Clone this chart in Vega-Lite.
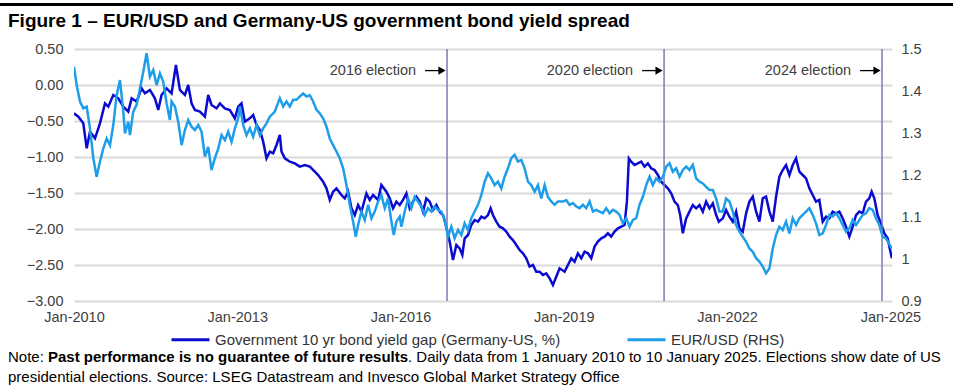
{
  "$schema": "https://vega.github.io/schema/vega-lite/v6.json",
  "width": 818,
  "height": 252,
  "autosize": {"type": "none"},
  "padding": {"left": 74, "top": 49, "right": 61, "bottom": 86},
  "background": "white",
  "config": {"view": {"stroke": null}, "font": "Liberation Sans"},
  "datasets": {
    "gap": [
      {"year": 2010.000, "value": -0.394}, {"year": 2010.080, "value": -0.440}, {"year": 2010.171, "value": -0.532}, {"year": 2010.233, "value": -0.880},
      {"year": 2010.294, "value": -0.648}, {"year": 2010.386, "value": -0.741}, {"year": 2010.477, "value": -0.532}, {"year": 2010.569, "value": -0.255},
      {"year": 2010.630, "value": -0.301}, {"year": 2010.722, "value": -0.139}, {"year": 2010.814, "value": -0.185}, {"year": 2010.906, "value": -0.301},
      {"year": 2010.997, "value": -0.370}, {"year": 2011.059, "value": -0.185}, {"year": 2011.150, "value": -0.231}, {"year": 2011.242, "value": -0.046},
      {"year": 2011.303, "value": -0.116}, {"year": 2011.395, "value": -0.069}, {"year": 2011.487, "value": -0.185}, {"year": 2011.548, "value": -0.347},
      {"year": 2011.609, "value": -0.139}, {"year": 2011.701, "value": -0.046}, {"year": 2011.793, "value": -0.116}, {"year": 2011.873, "value": 0.278},
      {"year": 2011.946, "value": -0.069}, {"year": 2012.038, "value": -0.139}, {"year": 2012.099, "value": 0.0}, {"year": 2012.160, "value": -0.255},
      {"year": 2012.221, "value": -0.347}, {"year": 2012.313, "value": -0.370}, {"year": 2012.405, "value": -0.440}, {"year": 2012.466, "value": -0.139},
      {"year": 2012.527, "value": -0.278}, {"year": 2012.619, "value": -0.324}, {"year": 2012.681, "value": -0.255}, {"year": 2012.772, "value": -0.324},
      {"year": 2012.864, "value": -0.347}, {"year": 2012.956, "value": -0.463}, {"year": 2013.017, "value": -0.301}, {"year": 2013.078, "value": -0.255},
      {"year": 2013.139, "value": -0.509}, {"year": 2013.231, "value": -0.463}, {"year": 2013.292, "value": -0.417}, {"year": 2013.354, "value": -0.556},
      {"year": 2013.415, "value": -0.625}, {"year": 2013.476, "value": -0.787}, {"year": 2013.537, "value": -1.019}, {"year": 2013.598, "value": -0.926},
      {"year": 2013.660, "value": -0.949}, {"year": 2013.721, "value": -0.833}, {"year": 2013.782, "value": -0.694}, {"year": 2013.813, "value": -0.926},
      {"year": 2013.874, "value": -1.019}, {"year": 2013.966, "value": -1.065}, {"year": 2014.057, "value": -1.088}, {"year": 2014.149, "value": -1.134},
      {"year": 2014.241, "value": -1.111}, {"year": 2014.333, "value": -1.134}, {"year": 2014.424, "value": -1.204}, {"year": 2014.486, "value": -1.250},
      {"year": 2014.577, "value": -1.343}, {"year": 2014.639, "value": -1.435}, {"year": 2014.700, "value": -1.597}, {"year": 2014.761, "value": -1.481},
      {"year": 2014.822, "value": -1.435}, {"year": 2014.914, "value": -1.528}, {"year": 2014.975, "value": -1.574}, {"year": 2015.036, "value": -1.481},
      {"year": 2015.098, "value": -1.713}, {"year": 2015.159, "value": -1.806}, {"year": 2015.220, "value": -1.667}, {"year": 2015.281, "value": -1.759},
      {"year": 2015.373, "value": -1.505}, {"year": 2015.434, "value": -1.597}, {"year": 2015.495, "value": -1.528}, {"year": 2015.587, "value": -1.597},
      {"year": 2015.648, "value": -1.389}, {"year": 2015.740, "value": -1.481}, {"year": 2015.801, "value": -1.574}, {"year": 2015.863, "value": -1.713},
      {"year": 2015.924, "value": -1.620}, {"year": 2015.985, "value": -1.667}, {"year": 2016.046, "value": -1.597}, {"year": 2016.107, "value": -1.505},
      {"year": 2016.168, "value": -1.713}, {"year": 2016.229, "value": -1.620}, {"year": 2016.291, "value": -1.551}, {"year": 2016.352, "value": -1.620},
      {"year": 2016.413, "value": -1.759}, {"year": 2016.474, "value": -1.574}, {"year": 2016.535, "value": -1.620}, {"year": 2016.597, "value": -1.736},
      {"year": 2016.658, "value": -1.667}, {"year": 2016.719, "value": -1.759}, {"year": 2016.780, "value": -1.806}, {"year": 2016.841, "value": -1.968},
      {"year": 2016.903, "value": -2.176}, {"year": 2016.964, "value": -2.431}, {"year": 2017.025, "value": -2.222}, {"year": 2017.086, "value": -2.269},
      {"year": 2017.135, "value": -2.361}, {"year": 2017.178, "value": -2.130}, {"year": 2017.239, "value": -2.083}, {"year": 2017.300, "value": -1.944},
      {"year": 2017.362, "value": -1.875}, {"year": 2017.423, "value": -1.898}, {"year": 2017.484, "value": -1.829}, {"year": 2017.545, "value": -1.852},
      {"year": 2017.606, "value": -1.806}, {"year": 2017.655, "value": -1.713}, {"year": 2017.698, "value": -1.806}, {"year": 2017.759, "value": -1.898},
      {"year": 2017.820, "value": -1.968}, {"year": 2017.882, "value": -1.991}, {"year": 2017.943, "value": -2.037}, {"year": 2018.004, "value": -2.106},
      {"year": 2018.065, "value": -2.153}, {"year": 2018.127, "value": -2.222}, {"year": 2018.188, "value": -2.292}, {"year": 2018.249, "value": -2.338},
      {"year": 2018.310, "value": -2.407}, {"year": 2018.371, "value": -2.523}, {"year": 2018.433, "value": -2.500}, {"year": 2018.494, "value": -2.593},
      {"year": 2018.555, "value": -2.593}, {"year": 2018.616, "value": -2.639}, {"year": 2018.677, "value": -2.616}, {"year": 2018.739, "value": -2.685},
      {"year": 2018.800, "value": -2.778}, {"year": 2018.861, "value": -2.662}, {"year": 2018.922, "value": -2.546}, {"year": 2019.014, "value": -2.593},
      {"year": 2019.076, "value": -2.500}, {"year": 2019.137, "value": -2.407}, {"year": 2019.198, "value": -2.454}, {"year": 2019.259, "value": -2.338},
      {"year": 2019.320, "value": -2.407}, {"year": 2019.382, "value": -2.315}, {"year": 2019.443, "value": -2.338}, {"year": 2019.504, "value": -2.407},
      {"year": 2019.565, "value": -2.245}, {"year": 2019.626, "value": -2.176}, {"year": 2019.688, "value": -2.130}, {"year": 2019.749, "value": -2.106},
      {"year": 2019.810, "value": -2.060}, {"year": 2019.871, "value": -2.106}, {"year": 2019.932, "value": -2.037}, {"year": 2019.994, "value": -1.991},
      {"year": 2020.055, "value": -1.968}, {"year": 2020.116, "value": -1.944}, {"year": 2020.159, "value": -1.620}, {"year": 2020.195, "value": -1.019},
      {"year": 2020.238, "value": -1.065}, {"year": 2020.299, "value": -1.111}, {"year": 2020.361, "value": -1.088}, {"year": 2020.422, "value": -1.065},
      {"year": 2020.483, "value": -1.134}, {"year": 2020.544, "value": -1.088}, {"year": 2020.605, "value": -1.157}, {"year": 2020.667, "value": -1.181},
      {"year": 2020.728, "value": -1.250}, {"year": 2020.789, "value": -1.343}, {"year": 2020.850, "value": -1.389}, {"year": 2020.911, "value": -1.435},
      {"year": 2020.973, "value": -1.505}, {"year": 2021.034, "value": -1.620}, {"year": 2021.095, "value": -1.667}, {"year": 2021.138, "value": -1.806},
      {"year": 2021.187, "value": -2.060}, {"year": 2021.248, "value": -1.852}, {"year": 2021.309, "value": -1.759}, {"year": 2021.370, "value": -1.667},
      {"year": 2021.432, "value": -1.713}, {"year": 2021.493, "value": -1.667}, {"year": 2021.554, "value": -1.759}, {"year": 2021.615, "value": -1.620},
      {"year": 2021.676, "value": -1.713}, {"year": 2021.738, "value": -1.644}, {"year": 2021.799, "value": -1.806}, {"year": 2021.848, "value": -1.898},
      {"year": 2021.921, "value": -1.852}, {"year": 2021.982, "value": -1.736}, {"year": 2022.043, "value": -1.829}, {"year": 2022.104, "value": -1.898},
      {"year": 2022.166, "value": -1.759}, {"year": 2022.227, "value": -1.991}, {"year": 2022.288, "value": -2.037}, {"year": 2022.349, "value": -1.782},
      {"year": 2022.410, "value": -1.620}, {"year": 2022.472, "value": -1.551}, {"year": 2022.533, "value": -1.759}, {"year": 2022.594, "value": -1.898},
      {"year": 2022.655, "value": -1.574}, {"year": 2022.716, "value": -1.551}, {"year": 2022.778, "value": -1.759}, {"year": 2022.839, "value": -1.898},
      {"year": 2022.900, "value": -1.551}, {"year": 2022.961, "value": -1.273}, {"year": 2023.022, "value": -1.181}, {"year": 2023.083, "value": -1.111},
      {"year": 2023.145, "value": -1.250}, {"year": 2023.206, "value": -1.111}, {"year": 2023.267, "value": -1.019}, {"year": 2023.328, "value": -1.204},
      {"year": 2023.389, "value": -1.250}, {"year": 2023.451, "value": -1.296}, {"year": 2023.512, "value": -1.435}, {"year": 2023.573, "value": -1.528},
      {"year": 2023.634, "value": -1.620}, {"year": 2023.695, "value": -1.597}, {"year": 2023.757, "value": -1.898}, {"year": 2023.818, "value": -1.829},
      {"year": 2023.879, "value": -1.852}, {"year": 2023.940, "value": -1.759}, {"year": 2024.001, "value": -1.782}, {"year": 2024.063, "value": -1.759},
      {"year": 2024.124, "value": -1.852}, {"year": 2024.185, "value": -1.968}, {"year": 2024.246, "value": -2.106}, {"year": 2024.307, "value": -1.968},
      {"year": 2024.369, "value": -1.806}, {"year": 2024.430, "value": -1.759}, {"year": 2024.491, "value": -1.782}, {"year": 2024.552, "value": -1.620},
      {"year": 2024.613, "value": -1.574}, {"year": 2024.656, "value": -1.481}, {"year": 2024.705, "value": -1.574}, {"year": 2024.766, "value": -1.806},
      {"year": 2024.828, "value": -1.921}, {"year": 2024.889, "value": -2.060}, {"year": 2024.950, "value": -2.130}, {"year": 2025.027, "value": -2.407}
    ],
    "eurusd": [
      {"year": 2010.000, "value": 1.458}, {"year": 2010.049, "value": 1.414}, {"year": 2010.110, "value": 1.375}, {"year": 2010.171, "value": 1.359},
      {"year": 2010.233, "value": 1.363}, {"year": 2010.294, "value": 1.311}, {"year": 2010.355, "value": 1.240}, {"year": 2010.416, "value": 1.196},
      {"year": 2010.477, "value": 1.232}, {"year": 2010.538, "value": 1.263}, {"year": 2010.600, "value": 1.287}, {"year": 2010.661, "value": 1.271},
      {"year": 2010.722, "value": 1.319}, {"year": 2010.783, "value": 1.390}, {"year": 2010.845, "value": 1.426}, {"year": 2010.906, "value": 1.351},
      {"year": 2010.936, "value": 1.299}, {"year": 2010.997, "value": 1.327}, {"year": 2011.028, "value": 1.295}, {"year": 2011.089, "value": 1.351},
      {"year": 2011.150, "value": 1.367}, {"year": 2011.212, "value": 1.406}, {"year": 2011.273, "value": 1.446}, {"year": 2011.334, "value": 1.490},
      {"year": 2011.395, "value": 1.434}, {"year": 2011.456, "value": 1.450}, {"year": 2011.518, "value": 1.414}, {"year": 2011.579, "value": 1.442},
      {"year": 2011.640, "value": 1.422}, {"year": 2011.701, "value": 1.371}, {"year": 2011.762, "value": 1.331}, {"year": 2011.793, "value": 1.375},
      {"year": 2011.854, "value": 1.363}, {"year": 2011.915, "value": 1.327}, {"year": 2011.977, "value": 1.271}, {"year": 2012.038, "value": 1.307},
      {"year": 2012.099, "value": 1.331}, {"year": 2012.160, "value": 1.315}, {"year": 2012.221, "value": 1.307}, {"year": 2012.283, "value": 1.319},
      {"year": 2012.344, "value": 1.303}, {"year": 2012.405, "value": 1.244}, {"year": 2012.466, "value": 1.267}, {"year": 2012.527, "value": 1.212},
      {"year": 2012.589, "value": 1.240}, {"year": 2012.650, "value": 1.263}, {"year": 2012.711, "value": 1.295}, {"year": 2012.772, "value": 1.283},
      {"year": 2012.833, "value": 1.303}, {"year": 2012.895, "value": 1.279}, {"year": 2012.956, "value": 1.311}, {"year": 2013.017, "value": 1.335},
      {"year": 2013.048, "value": 1.363}, {"year": 2013.109, "value": 1.319}, {"year": 2013.170, "value": 1.295}, {"year": 2013.231, "value": 1.311},
      {"year": 2013.292, "value": 1.291}, {"year": 2013.354, "value": 1.319}, {"year": 2013.415, "value": 1.295}, {"year": 2013.476, "value": 1.311},
      {"year": 2013.537, "value": 1.323}, {"year": 2013.598, "value": 1.339}, {"year": 2013.690, "value": 1.351}, {"year": 2013.782, "value": 1.383},
      {"year": 2013.843, "value": 1.363}, {"year": 2013.904, "value": 1.375}, {"year": 2013.966, "value": 1.363}, {"year": 2014.027, "value": 1.379},
      {"year": 2014.088, "value": 1.379}, {"year": 2014.149, "value": 1.387}, {"year": 2014.210, "value": 1.394}, {"year": 2014.272, "value": 1.387},
      {"year": 2014.333, "value": 1.390}, {"year": 2014.394, "value": 1.375}, {"year": 2014.455, "value": 1.355}, {"year": 2014.516, "value": 1.347},
      {"year": 2014.577, "value": 1.335}, {"year": 2014.639, "value": 1.315}, {"year": 2014.700, "value": 1.287}, {"year": 2014.761, "value": 1.271},
      {"year": 2014.822, "value": 1.256}, {"year": 2014.883, "value": 1.240}, {"year": 2014.945, "value": 1.216}, {"year": 2015.006, "value": 1.176},
      {"year": 2015.067, "value": 1.129}, {"year": 2015.128, "value": 1.089}, {"year": 2015.177, "value": 1.053}, {"year": 2015.220, "value": 1.081},
      {"year": 2015.281, "value": 1.113}, {"year": 2015.342, "value": 1.093}, {"year": 2015.404, "value": 1.129}, {"year": 2015.465, "value": 1.097},
      {"year": 2015.526, "value": 1.113}, {"year": 2015.587, "value": 1.137}, {"year": 2015.648, "value": 1.152}, {"year": 2015.710, "value": 1.121},
      {"year": 2015.771, "value": 1.144}, {"year": 2015.832, "value": 1.089}, {"year": 2015.875, "value": 1.057}, {"year": 2015.924, "value": 1.089},
      {"year": 2015.985, "value": 1.101}, {"year": 2016.015, "value": 1.077}, {"year": 2016.076, "value": 1.113}, {"year": 2016.138, "value": 1.144},
      {"year": 2016.199, "value": 1.121}, {"year": 2016.260, "value": 1.148}, {"year": 2016.321, "value": 1.137}, {"year": 2016.382, "value": 1.125},
      {"year": 2016.444, "value": 1.105}, {"year": 2016.505, "value": 1.121}, {"year": 2016.566, "value": 1.113}, {"year": 2016.627, "value": 1.125},
      {"year": 2016.688, "value": 1.117}, {"year": 2016.750, "value": 1.113}, {"year": 2016.811, "value": 1.093}, {"year": 2016.872, "value": 1.053},
      {"year": 2016.933, "value": 1.077}, {"year": 2016.994, "value": 1.049}, {"year": 2017.056, "value": 1.069}, {"year": 2017.117, "value": 1.057},
      {"year": 2017.178, "value": 1.085}, {"year": 2017.239, "value": 1.069}, {"year": 2017.300, "value": 1.097}, {"year": 2017.362, "value": 1.113},
      {"year": 2017.423, "value": 1.129}, {"year": 2017.484, "value": 1.152}, {"year": 2017.545, "value": 1.184}, {"year": 2017.606, "value": 1.204},
      {"year": 2017.667, "value": 1.192}, {"year": 2017.729, "value": 1.176}, {"year": 2017.790, "value": 1.184}, {"year": 2017.851, "value": 1.168},
      {"year": 2017.912, "value": 1.196}, {"year": 2017.973, "value": 1.216}, {"year": 2018.035, "value": 1.240}, {"year": 2018.096, "value": 1.248},
      {"year": 2018.157, "value": 1.232}, {"year": 2018.218, "value": 1.236}, {"year": 2018.279, "value": 1.216}, {"year": 2018.341, "value": 1.184},
      {"year": 2018.402, "value": 1.176}, {"year": 2018.463, "value": 1.160}, {"year": 2018.524, "value": 1.176}, {"year": 2018.585, "value": 1.144},
      {"year": 2018.647, "value": 1.176}, {"year": 2018.708, "value": 1.148}, {"year": 2018.769, "value": 1.137}, {"year": 2018.830, "value": 1.129},
      {"year": 2018.891, "value": 1.137}, {"year": 2018.984, "value": 1.137}, {"year": 2019.045, "value": 1.140}, {"year": 2019.106, "value": 1.129},
      {"year": 2019.167, "value": 1.133}, {"year": 2019.229, "value": 1.125}, {"year": 2019.290, "value": 1.121}, {"year": 2019.351, "value": 1.129},
      {"year": 2019.412, "value": 1.121}, {"year": 2019.473, "value": 1.137}, {"year": 2019.535, "value": 1.113}, {"year": 2019.596, "value": 1.117},
      {"year": 2019.657, "value": 1.113}, {"year": 2019.718, "value": 1.109}, {"year": 2019.779, "value": 1.121}, {"year": 2019.840, "value": 1.109},
      {"year": 2019.902, "value": 1.117}, {"year": 2019.963, "value": 1.113}, {"year": 2020.024, "value": 1.105}, {"year": 2020.085, "value": 1.085},
      {"year": 2020.146, "value": 1.097}, {"year": 2020.208, "value": 1.077}, {"year": 2020.269, "value": 1.093}, {"year": 2020.330, "value": 1.097},
      {"year": 2020.391, "value": 1.129}, {"year": 2020.452, "value": 1.148}, {"year": 2020.514, "value": 1.176}, {"year": 2020.575, "value": 1.196},
      {"year": 2020.636, "value": 1.176}, {"year": 2020.697, "value": 1.192}, {"year": 2020.758, "value": 1.184}, {"year": 2020.820, "value": 1.196},
      {"year": 2020.881, "value": 1.220}, {"year": 2020.942, "value": 1.228}, {"year": 2021.003, "value": 1.208}, {"year": 2021.064, "value": 1.216},
      {"year": 2021.126, "value": 1.196}, {"year": 2021.187, "value": 1.212}, {"year": 2021.248, "value": 1.220}, {"year": 2021.309, "value": 1.212},
      {"year": 2021.370, "value": 1.224}, {"year": 2021.432, "value": 1.192}, {"year": 2021.493, "value": 1.184}, {"year": 2021.554, "value": 1.180},
      {"year": 2021.615, "value": 1.172}, {"year": 2021.676, "value": 1.164}, {"year": 2021.738, "value": 1.164}, {"year": 2021.799, "value": 1.144},
      {"year": 2021.860, "value": 1.113}, {"year": 2021.921, "value": 1.113}, {"year": 2021.982, "value": 1.144}, {"year": 2022.043, "value": 1.137},
      {"year": 2022.104, "value": 1.113}, {"year": 2022.166, "value": 1.081}, {"year": 2022.227, "value": 1.065}, {"year": 2022.288, "value": 1.053},
      {"year": 2022.349, "value": 1.041}, {"year": 2022.410, "value": 1.025}, {"year": 2022.472, "value": 1.017}, {"year": 2022.533, "value": 1.002},
      {"year": 2022.594, "value": 0.994}, {"year": 2022.655, "value": 0.982}, {"year": 2022.716, "value": 0.966}, {"year": 2022.778, "value": 0.978},
      {"year": 2022.839, "value": 1.025}, {"year": 2022.900, "value": 1.057}, {"year": 2022.961, "value": 1.077}, {"year": 2023.022, "value": 1.069},
      {"year": 2023.083, "value": 1.089}, {"year": 2023.145, "value": 1.061}, {"year": 2023.206, "value": 1.097}, {"year": 2023.267, "value": 1.081},
      {"year": 2023.328, "value": 1.097}, {"year": 2023.389, "value": 1.105}, {"year": 2023.451, "value": 1.113}, {"year": 2023.512, "value": 1.121},
      {"year": 2023.573, "value": 1.105}, {"year": 2023.634, "value": 1.085}, {"year": 2023.695, "value": 1.057}, {"year": 2023.757, "value": 1.061},
      {"year": 2023.818, "value": 1.081}, {"year": 2023.879, "value": 1.105}, {"year": 2023.940, "value": 1.101}, {"year": 2024.001, "value": 1.109},
      {"year": 2024.063, "value": 1.097}, {"year": 2024.124, "value": 1.081}, {"year": 2024.185, "value": 1.065}, {"year": 2024.246, "value": 1.073},
      {"year": 2024.307, "value": 1.093}, {"year": 2024.369, "value": 1.081}, {"year": 2024.430, "value": 1.093}, {"year": 2024.491, "value": 1.105},
      {"year": 2024.552, "value": 1.109}, {"year": 2024.613, "value": 1.121}, {"year": 2024.675, "value": 1.117}, {"year": 2024.736, "value": 1.097},
      {"year": 2024.797, "value": 1.081}, {"year": 2024.858, "value": 1.053}, {"year": 2024.919, "value": 1.049}, {"year": 2025.027, "value": 1.025}
    ],
    "elections": [
      {"year": 2016.854, "label": "2016 election"},
      {"year": 2020.842, "label": "2020 election"},
      {"year": 2024.847, "label": "2024 election"}
    ]
  },
  "layer": [
    {
      "layer": [
        {
          "data": {"name": "gap"},
          "mark": {"type": "line", "strokeWidth": 2.5, "clip": true},
          "encoding": {
            "x": {
              "field": "year", "type": "quantitative",
              "scale": {"domain": [2010, 2025.03], "nice": false, "zero": false},
              "axis": {"values": [2010, 2013, 2016, 2019, 2022, 2025], "labelExpr": "'Jan-' + datum.value", "labelOverlap": false, "labelFlush": false, "grid": false, "ticks": false, "domain": false, "title": null, "labelFontSize": 14.5, "labelColor": "#404040", "labelPadding": 9, "labelFont": "Liberation Sans"}
            },
            "y": {
              "field": "value", "type": "quantitative",
              "scale": {"domain": [-3, 0.5], "nice": false, "zero": false},
              "axis": {"values": [-3, -2.5, -2, -1.5, -1, -0.5, 0, 0.5], "format": ".2f", "labelOverlap": false, "labelFlush": false, "grid": true, "gridColor": "#d9d9d9", "gridWidth": 2, "domain": false, "ticks": false, "title": null, "labelFontSize": 14.5, "labelColor": "#404040", "labelPadding": 11, "labelFont": "Liberation Sans"}
            },
            "color": {
              "datum": "Government 10 yr bond yield gap (Germany-US, %)",
              "scale": {"domain": ["Government 10 yr bond yield gap (Germany-US, %)", "EUR/USD (RHS)"], "range": ["#0a0ad0", "#1e9de8"]},
              "legend": {"orient": "none", "legendX": 96, "legendY": 270, "direction": "horizontal", "title": null, "symbolType": "stroke", "symbolSize": 1444, "symbolStrokeWidth": 3, "labelFontSize": 15, "labelColor": "#333333", "labelFont": "Liberation Sans", "labelOffset": 4, "columnPadding": 60, "labelLimit": 500}
            }
          }
        },
        {
          "data": {"name": "elections"},
          "mark": {"type": "rule", "color": "#7a7ab8", "strokeWidth": 1.5},
          "encoding": {"x": {"field": "year", "type": "quantitative"}}
        },
        {
          "data": {"name": "elections"},
          "mark": {"type": "text", "align": "right", "baseline": "middle", "dx": -31, "fontSize": 14.5, "color": "#404040", "font": "Liberation Sans"},
          "encoding": {
            "x": {"field": "year", "type": "quantitative"},
            "y": {"datum": 0.2, "type": "quantitative", "axis": {"values": [-3, -2.5, -2, -1.5, -1, -0.5, 0, 0.5], "format": ".2f", "labelOverlap": false, "labelFlush": false, "grid": true, "gridColor": "#d9d9d9", "gridWidth": 2, "domain": false, "ticks": false, "title": null, "labelFontSize": 14.5, "labelColor": "#404040", "labelPadding": 11, "labelFont": "Liberation Sans"}},
            "text": {"field": "label"}
          }
        },
        {
          "data": {"name": "elections"},
          "mark": {"type": "rule", "color": "#000000", "strokeWidth": 1.3, "xOffset": -22, "x2Offset": -7},
          "encoding": {
            "x": {"field": "year", "type": "quantitative"},
            "x2": {"field": "year"},
            "y": {"datum": 0.2, "type": "quantitative", "axis": {"values": [-3, -2.5, -2, -1.5, -1, -0.5, 0, 0.5], "format": ".2f", "labelOverlap": false, "labelFlush": false, "grid": true, "gridColor": "#d9d9d9", "gridWidth": 2, "domain": false, "ticks": false, "title": null, "labelFontSize": 14.5, "labelColor": "#404040", "labelPadding": 11, "labelFont": "Liberation Sans"}}
          }
        },
        {
          "data": {"name": "elections"},
          "mark": {"type": "point", "shape": "triangle-right", "filled": true, "color": "#000000", "opacity": 1, "size": 70, "xOffset": -5},
          "encoding": {
            "x": {"field": "year", "type": "quantitative"},
            "y": {"datum": 0.2, "type": "quantitative", "axis": {"values": [-3, -2.5, -2, -1.5, -1, -0.5, 0, 0.5], "format": ".2f", "labelOverlap": false, "labelFlush": false, "grid": true, "gridColor": "#d9d9d9", "gridWidth": 2, "domain": false, "ticks": false, "title": null, "labelFontSize": 14.5, "labelColor": "#404040", "labelPadding": 11, "labelFont": "Liberation Sans"}}
          }
        },
        {
          "data": {"values": [{}]},
          "mark": {"type": "rule", "color": "#000000", "strokeWidth": 3},
          "encoding": {"x": {"value": -74}, "x2": {"value": 879}, "y": {"value": -44.5}}
        },
        {
          "data": {"values": [{}]},
          "mark": {"type": "text", "text": "Figure 1 – EUR/USD and Germany-US government bond yield spread", "align": "left", "baseline": "middle", "fontSize": 19, "fontWeight": "bold", "color": "#000000", "font": "Liberation Sans"},
          "encoding": {"x": {"value": -66}, "y": {"value": -28}}
        },
        {
          "data": {"values": [{}]},
          "mark": {"type": "text", "text": "Note: ", "align": "left", "baseline": "middle", "fontSize": 15, "color": "#000000", "font": "Liberation Sans"},
          "encoding": {"x": {"value": -66}, "y": {"value": 308}}
        },
        {
          "data": {"values": [{}]},
          "mark": {"type": "text", "text": "Past performance is no guarantee of future results", "align": "left", "baseline": "middle", "fontSize": 15, "fontWeight": "bold", "color": "#000000", "font": "Liberation Sans"},
          "encoding": {"x": {"value": -26}, "y": {"value": 308}}
        },
        {
          "data": {"values": [{}]},
          "mark": {"type": "text", "text": ". Daily data from 1 January 2010 to 10 January 2025.  Elections show date of US", "align": "left", "baseline": "middle", "fontSize": 15, "color": "#000000", "font": "Liberation Sans"},
          "encoding": {"x": {"value": 334}, "y": {"value": 308}}
        },
        {
          "data": {"values": [{}]},
          "mark": {"type": "text", "text": "presidential elections. Source: LSEG Datastream and Invesco Global Market Strategy Office", "align": "left", "baseline": "middle", "fontSize": 15, "color": "#000000", "font": "Liberation Sans"},
          "encoding": {"x": {"value": -66}, "y": {"value": 328}}
        }
      ]
    },
    {
      "data": {"name": "eurusd"},
      "mark": {"type": "line", "strokeWidth": 2.5, "clip": true},
      "encoding": {
        "x": {
          "field": "year", "type": "quantitative",
          "axis": {"values": [2010, 2013, 2016, 2019, 2022, 2025], "labelExpr": "'Jan-' + datum.value", "labelOverlap": false, "labelFlush": false, "grid": false, "ticks": false, "domain": false, "title": null, "labelFontSize": 14.5, "labelColor": "#404040", "labelPadding": 9, "labelFont": "Liberation Sans"}
        },
        "y": {
          "field": "value", "type": "quantitative",
          "scale": {"domain": [0.9, 1.5], "nice": false, "zero": false},
          "axis": {"orient": "right", "values": [0.9, 1.0, 1.1, 1.2, 1.3, 1.4, 1.5], "format": ".1~f", "labelOverlap": false, "labelFlush": false, "grid": false, "domain": false, "ticks": false, "title": null, "labelFontSize": 14.5, "labelColor": "#404040", "labelPadding": 9, "labelFont": "Liberation Sans"}
        },
        "color": {"datum": "EUR/USD (RHS)"}
      }
    }
  ],
  "resolve": {"scale": {"y": "independent"}}
}
